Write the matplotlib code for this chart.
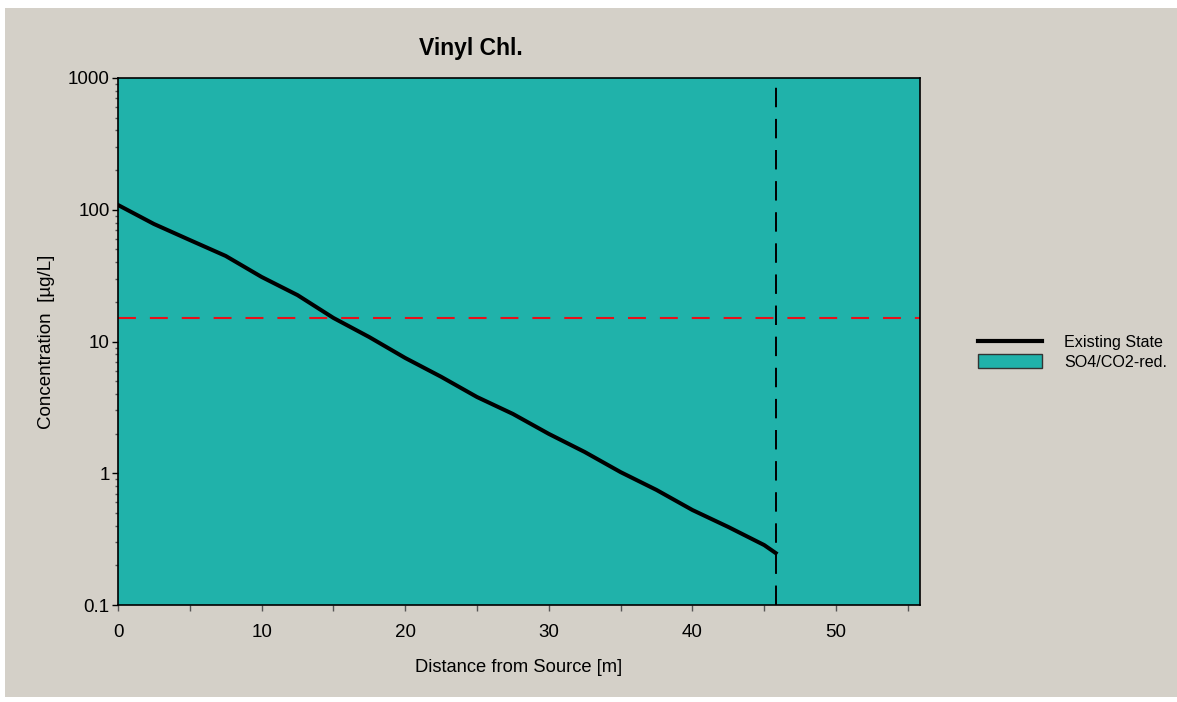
import matplotlib.pyplot as plt
from matplotlib.lines import Line2D
from matplotlib.patches import Patch, Rectangle

# Data
distance = [0, 2.5, 5, 7.5, 10, 12.5, 15, 17.5, 20, 22.5, 25, 27.5, 30,
            32.5, 35, 37.5, 40, 42.5, 45, 45.8]
concentration = [108.7, 78, 58.9, 44.6, 30.9, 22.5, 15.1, 10.8, 7.5, 5.4,
                 3.79, 2.82, 1.99, 1.45, 1.02, 0.747, 0.526, 0.391, 0.285, 0.248]
threshold = 15.0          # red dashed limit
source_limit = 45.8       # vertical dashed line
title = 'Vinyl Chl.'
legend_labels = ['Existing State', 'SO4/CO2-red.']

FONT = 'Liberation Sans'
BG = '#d4d0c8'
TEAL = '#20b2aa'

W, H = 1177, 702
fig = plt.figure(figsize=(W / 100, H / 100), dpi=100, facecolor='white')
# grey panel with a thin white margin
fig.patches.append(Rectangle((5 / W, 5 / H), 1 - 5 / W, 1 - 13 / H,
                             transform=fig.transFigure, facecolor=BG,
                             edgecolor='none', zorder=-10))

ax = fig.add_axes([118 / W, 1 - 605 / H, (920 - 118) / W, (605 - 78) / H])
ax.set_facecolor(TEAL)

ax.plot(distance, concentration, color='black', linewidth=2.9,
        solid_joinstyle='round', zorder=3)
ax.axhline(threshold, color='#e8101a', linewidth=1.5, dashes=(8.6, 6.7), zorder=2)
ax.axvline(source_limit, color='black', linewidth=1.4, dashes=(10, 6), zorder=2)

ax.set_yscale('log')
ax.set_ylim(0.1, 1000)
ax.set_xlim(0, 55.85)

ax.set_xticks([0, 10, 20, 30, 40, 50])
ax.set_xticks([5, 15, 25, 35, 45, 55], minor=True)
ax.set_yticks([0.1, 1, 10, 100, 1000])
ax.set_yticklabels(['0.1', '1', '10', '100', '1000'])

ax.tick_params(axis='x', which='both', direction='out', length=4.5,
               width=1, color='#555555', pad=9, labelsize=13.5)
ax.tick_params(axis='y', which='major', direction='out', length=4,
               width=1, color='black', pad=2, labelsize=13.5)
ax.tick_params(axis='y', which='minor', direction='out', length=2,
               width=1, color='#555555', labelleft=False)
for lab in ax.get_xticklabels() + ax.get_yticklabels():
    lab.set_fontfamily(FONT)

for s in ax.spines.values():
    s.set_color('black')
    s.set_linewidth(1.2)

ax.set_xlabel('Distance from Source [m]', fontsize=13.2, fontfamily=FONT, labelpad=13)
ax.set_ylabel('Concentration  [\u00b5g/L]', fontsize=13.5, fontfamily=FONT, labelpad=9)

fig.text(471 / W, 1 - 48 / H, title, ha='center', va='center',
         fontsize=16.5, fontweight='bold', fontfamily=FONT)

handles = [Line2D([0], [0], color='black', linewidth=3),
           Patch(facecolor=TEAL, edgecolor='#333333', linewidth=1)]
fig.legend(handles, legend_labels, loc='center left',
           bbox_to_anchor=(978 / W, 1 - 352 / H), frameon=False,
           prop={'family': FONT, 'size': 11.6}, handlelength=4.0,
           handleheight=1.0, handletextpad=1.35, labelspacing=0.25,
           borderpad=0, borderaxespad=0)

fig.savefig('out.png', dpi=100, facecolor='white')
